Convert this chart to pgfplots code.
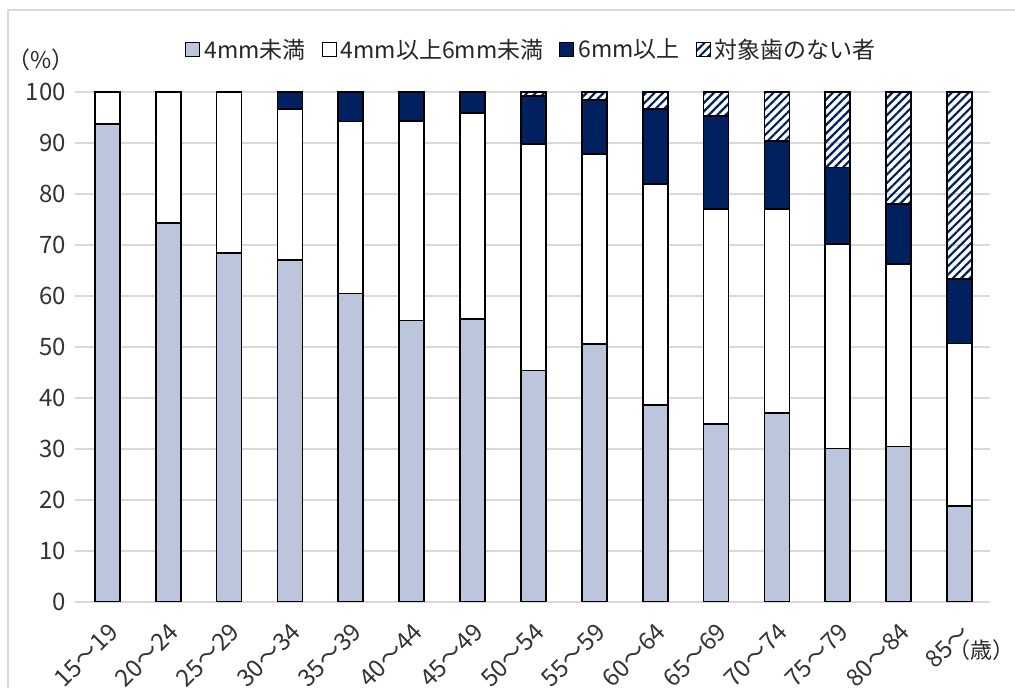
\documentclass[border=0pt]{standalone}
\usepackage{fontspec}
\setmainfont{Noto Sans CJK JP}
\usepackage{pgfplots}
\usepackage{pgfplotstable}
\pgfplotsset{compat=1.18}
\usetikzlibrary{patterns.meta}
\definecolor{navy}{HTML}{002060}
\definecolor{lowc}{RGB}{188,197,220}
\definecolor{gridc}{RGB}{217,217,217}
\pgfplotstableread{
x a b c d
0 93.7 6.3 0 0
1 74.3 25.7 0 0
2 68.5 31.5 0 0
3 67.1 29.6 3.3 0
4 60.5 33.7 5.8 0
5 55.2 39.1 5.7 0
6 55.5 40.4 4.1 0
7 45.4 44.4 9.4 0.8
8 50.6 37.2 10.6 1.6
9 38.6 43.3 14.7 3.4
10 34.9 42.1 18.3 4.7
11 37.1 39.9 13.4 9.6
12 30.1 40.1 15.0 14.8
13 30.5 35.8 11.7 22.0
14 18.9 31.8 12.6 36.7
}\data
\pgfplotsset{sqlegend/.style={legend image code/.code={\draw[##1,draw=black,line width=0.5pt] (0pt,-3.5pt) rectangle (7pt,3.5pt);}}}
\begin{document}
\begin{tikzpicture}
\draw[gridc, line width=0.75pt] (4pt,0pt) -- (4pt,339pt) -- (507.5pt,339pt);
\begin{axis}[
  at={(37.5pt,43pt)}, anchor=south west,
  scale only axis, width=457.5pt, height=255pt,
  ybar stacked, bar width=12.5pt,
  xmin=-0.53, xmax=14.5, ymin=0, ymax=100,
  ytick={0,10,...,100}, xtick={0,...,14},
  xticklabels={15～19,20～24,25～29,30～34,35～39,40～44,45～49,50～54,55～59,60～64,65～69,70～74,75～79,80～84,85～},
  axis line style={draw=none}, major tick length=0pt,
  ymajorgrids, grid style={gridc, line width=0.75pt},
  tick label style={font=\fontsize{12}{14}\selectfont, text=black!80},
  /pgf/number format/assume math mode=true,
  yticklabel style={xshift=-1pt},
  xticklabel style={rotate=45, anchor=east, xshift=-3.5pt, yshift=-11.4pt},
  legend columns=4,
  legend style={at={(0.5,1)}, anchor=center, yshift=21pt, draw=none, fill=none,
    font=\fontsize{11.5}{13}\selectfont, text=black!85,
    /tikz/every even column/.append style={column sep=6pt}},
  every axis plot/.append style={draw=black, line width=0.9pt},
]
\addplot[fill=lowc, sqlegend] table[x=x,y=a] {\data};
\addlegendentry{4mm未満}
\addplot[fill=white, sqlegend] table[x=x,y=b] {\data};
\addlegendentry{4mm以上6mm未満}
\addplot[fill=navy, sqlegend] table[x=x,y=c] {\data};
\addlegendentry{6mm以上}
\addplot[pattern={Lines[angle=45,distance=3pt,line width=1.1pt]}, pattern color=navy, sqlegend] table[x=x,y=d] {\data};
\addlegendentry{対象歯のない者}
\end{axis}
\node[font=\fontsize{11.5}{13}\selectfont, text=black!85] at (20.5pt,314pt) {（\%）};
\node[font=\fontsize{11}{13}\selectfont, text=black!85, inner sep=0pt] at (490.5pt,19pt) {（歳）};
\pgfresetboundingbox
\path[use as bounding box] (0pt,0pt) rectangle (507.5pt,344pt);
\end{tikzpicture}
\end{document}
